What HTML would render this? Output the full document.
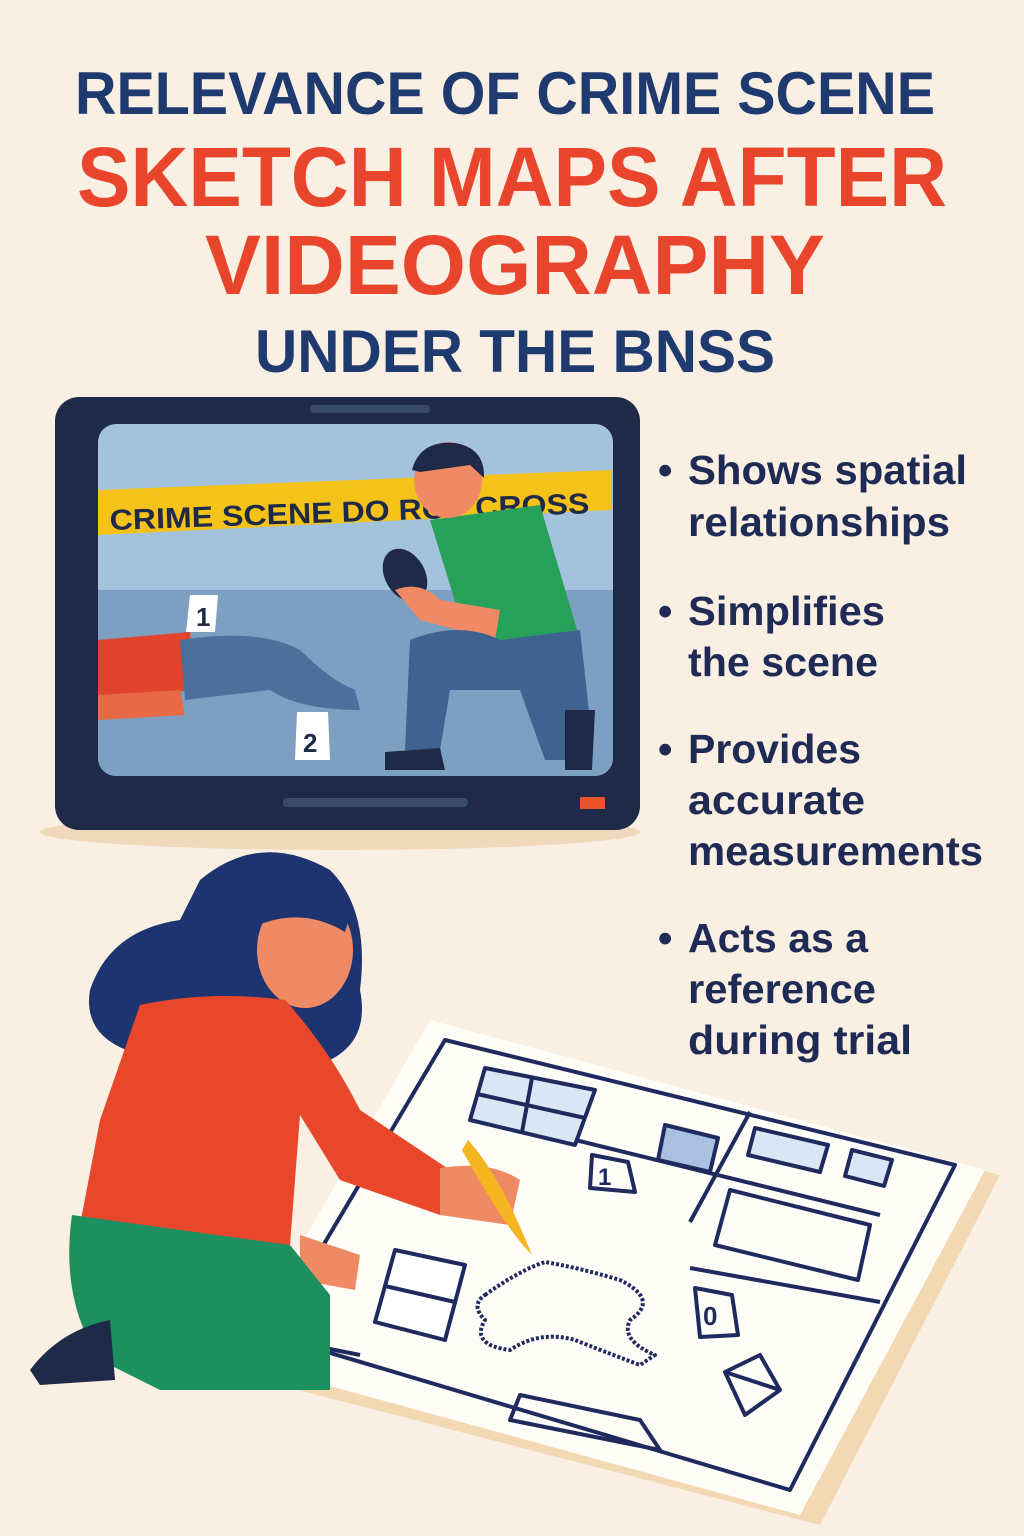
<!DOCTYPE html>
<html><head><meta charset="utf-8"><style>
html,body{margin:0;padding:0;background:#f9efe3;}
svg{display:block;}
text{font-family:"Liberation Sans",sans-serif;font-weight:bold;}
</style></head><body>
<svg width="1024" height="1536" viewBox="0 0 1024 1536">
<rect width="1024" height="1536" fill="#f9efe3"/>
<text x="505" y="114" text-anchor="middle" font-size="60" fill="#1f3a6e" textLength="860" lengthAdjust="spacingAndGlyphs">RELEVANCE OF CRIME SCENE</text>
<text x="512" y="206" text-anchor="middle" font-size="84" fill="#e8452c" textLength="870" lengthAdjust="spacingAndGlyphs">SKETCH MAPS AFTER</text>
<text x="515" y="294" text-anchor="middle" font-size="84" fill="#e8452c" textLength="620" lengthAdjust="spacingAndGlyphs">VIDEOGRAPHY</text>
<text x="515" y="372" text-anchor="middle" font-size="60" fill="#1f3a6e" textLength="520" lengthAdjust="spacingAndGlyphs">UNDER THE BNSS</text>

<ellipse cx="340" cy="832" rx="300" ry="18" fill="#f0d9bb"/>
<rect x="55" y="397" width="585" height="433" rx="24" fill="#1e2a48"/>
<rect x="310" y="405" width="120" height="8" rx="4" fill="#3a4a6a"/>
<rect x="283" y="798" width="185" height="9" rx="4" fill="#3a4a6a"/>
<rect x="580" y="797" width="25" height="12" fill="#e8552c"/>
<clipPath id="scr"><rect x="98" y="424" width="515" height="352" rx="18"/></clipPath>
<g clip-path="url(#scr)">
<rect x="98" y="424" width="515" height="352" fill="#a3c2dc"/>
<rect x="98" y="590" width="515" height="190" fill="#7d9fc2"/>
<polygon points="98,490 612,470 612,510 98,535" fill="#f5c21a"/>
<text x="110" y="530" font-size="29" fill="#1e2a48" transform="rotate(-2 110 530)" textLength="480" lengthAdjust="spacingAndGlyphs">CRIME SCENE DO ROT  CROSS</text>
<path d="M98 640 L190 632 L195 690 L98 700Z" fill="#e2432c"/>
<path d="M98 695 L180 690 L185 715 L98 720Z" fill="#e86a45"/>
<path d="M180 640 Q260 628 300 650 Q330 680 355 690 L360 710 Q300 710 270 690 L185 700Z" fill="#4c6f9c"/>
<polygon points="190,595 218,595 215,632 186,632" fill="#fff"/>
<text x="196" y="626" font-size="26" fill="#1e2a48">1</text>
<polygon points="297,712 328,712 330,760 295,760" fill="#fff"/>
<text x="303" y="752" font-size="26" fill="#1e2a48">2</text>
<path d="M430 520 L540 505 L580 640 L470 650Z" fill="#27a05a"/>
<ellipse cx="448" cy="480" rx="34" ry="38" fill="#ef8a64"/>
<path d="M412 470 Q420 440 455 443 Q485 448 484 478 L470 465 L420 472Z" fill="#1e2a48"/>
<ellipse cx="405" cy="575" rx="20" ry="28" fill="#1e2a48" transform="rotate(-30 405 575)"/>
<path d="M395 590 Q420 580 440 600 L500 610 L495 640 L420 620Z" fill="#ef8a64"/>
<path d="M410 640 Q460 620 500 640 L580 630 L590 720 L575 760 L545 760 L520 690 L450 690 L440 750 L405 750Z" fill="#3e6391"/>
<path d="M385 752 L440 748 L445 770 L385 770Z" fill="#1e2a48"/>
<path d="M565 710 L595 710 L592 770 L565 770Z" fill="#1e2a48"/>
</g>

<g font-size="41" fill="#1f2a55">
<text x="658" y="484">•</text><text x="688" y="484" textLength="279" lengthAdjust="spacingAndGlyphs">Shows spatial</text>
<text x="688" y="536" textLength="262" lengthAdjust="spacingAndGlyphs">relationships</text>
<text x="658" y="625">•</text><text x="688" y="625" textLength="197" lengthAdjust="spacingAndGlyphs">Simplifies</text>
<text x="688" y="676" textLength="190" lengthAdjust="spacingAndGlyphs">the scene</text>
<text x="658" y="763">•</text><text x="688" y="763" textLength="173" lengthAdjust="spacingAndGlyphs">Provides</text>
<text x="688" y="814" textLength="177" lengthAdjust="spacingAndGlyphs">accurate</text>
<text x="688" y="865" textLength="295" lengthAdjust="spacingAndGlyphs">measurements</text>
<text x="658" y="952">•</text><text x="688" y="952" textLength="180" lengthAdjust="spacingAndGlyphs">Acts as a</text>
<text x="688" y="1003" textLength="188" lengthAdjust="spacingAndGlyphs">reference</text>
<text x="688" y="1054" textLength="224" lengthAdjust="spacingAndGlyphs">during trial</text>
</g>

<polygon points="260,1380 450,1040 1000,1175 820,1525" fill="#f3d8b4"/>
<polygon points="235,1360 430,1020 985,1170 800,1515" fill="#fffdf8"/>
<g fill="none" stroke="#1f2a5e" stroke-width="4" stroke-linejoin="round">
<polygon points="270,1335 445,1040 955,1165 790,1490"/>
<line x1="555" y1="1135" x2="880" y2="1215"/>
<line x1="750" y1="1112" x2="690" y2="1222"/>
<line x1="690" y1="1268" x2="880" y2="1302"/>
<polygon points="485,1068 595,1090 575,1145 470,1120" fill="#dbe6f5"/>
<line x1="532" y1="1078" x2="522" y2="1132"/><line x1="477" y1="1094" x2="585" y2="1118"/>
<polygon points="395,1250 465,1265 445,1340 375,1322" fill="#fff"/>
<line x1="385" y1="1286" x2="455" y2="1302"/>
<polygon points="665,1125 718,1138 710,1172 658,1160" fill="#a9c0e0"/>
<polygon points="755,1128 828,1145 820,1172 748,1155" fill="#dbe6f5"/>
<polygon points="852,1150 892,1160 884,1186 845,1176" fill="#dbe6f5"/>
<polygon points="730,1190 870,1225 858,1280 715,1245" />
<polygon points="592,1155 628,1162 635,1192 590,1188"/>
<polygon points="695,1288 732,1295 738,1335 700,1337"/>
<path d="M485 1295 Q520 1270 545 1262 Q580 1268 620 1280 Q660 1300 630 1320 Q620 1340 655 1355 L640 1365 Q600 1350 575 1340 Q540 1330 510 1350 Q470 1345 485 1320 Q470 1305 485 1295Z" stroke-dasharray="3 2"/>
<polygon points="725,1372 760,1355 780,1390 745,1415"/>
<line x1="725" y1="1372" x2="780" y2="1390"/>
<polygon points="520,1395 640,1420 660,1450 510,1420"/>
<line x1="310" y1="1345" x2="360" y2="1355"/>
</g>
<text x="598" y="1185" font-size="24" fill="#1f2a5e">1</text>
<text x="703" y="1325" font-size="26" fill="#1f2a5e">0</text>

<path d="M200 880 Q260 830 330 870 Q370 910 360 990 Q370 1040 330 1060 L170 1060 Q80 1050 90 990 Q110 930 180 920Z" fill="#1e3470"/>
<ellipse cx="305" cy="950" rx="48" ry="58" fill="#ef8a64"/>
<path d="M245 905 Q295 872 352 910 L345 932 Q300 905 252 928Z" fill="#1e3470"/>
<path d="M140 1005 Q210 990 285 1000 Q330 1050 360 1110 L450 1170 L440 1215 L340 1180 L300 1115 L290 1245 L80 1225 L100 1120Z" fill="#e8472c"/>
<path d="M440 1168 Q490 1160 520 1180 L510 1225 L440 1215Z" fill="#ef8a64"/>
<path d="M300 1235 L360 1255 L355 1290 L300 1280Z" fill="#ef8a64"/>
<path d="M468 1140 Q500 1175 532 1255 Q505 1228 462 1150Z" fill="#f5b520"/>
<path d="M72 1215 Q180 1230 290 1245 L330 1295 L330 1390 L160 1390 L100 1360 Q60 1300 72 1215Z" fill="#1e8f5e"/>
<path d="M30 1370 Q60 1330 110 1320 L115 1380 L40 1385Z" fill="#1e2a48"/>
</svg>
</body></html>
